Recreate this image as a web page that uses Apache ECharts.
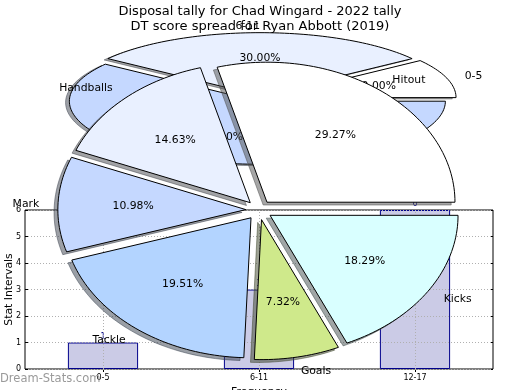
<!DOCTYPE html>
<html>
<head>
<meta charset="utf-8">
<script src="https://cdn.jsdelivr.net/npm/echarts@6/dist/echarts.min.js"></script>
<style>
html, body { margin: 0; padding: 0; background: #ffffff; }
#chart { width: 520px; height: 390px; }
</style>
</head>
<body>
<div id="chart"></div>
<script>
// ---- data ----
const titleMain = 'Disposal tally for Chad Wingard - 2022 tally';
const titleSub = 'DT score spread for Ryan Abbott (2019)';
const spreadCategories = ['0-5', '6-11', '12-17'];
const spreadValues = [1, 3, 6];
const yAxisMax = 6;
const yAxisInterval = 1;
const disposalCategories = ['Hitout', 'Handballs', 'Mark', 'Tackle', 'Goals', 'Kicks'];
const disposalValues = [24, 12, 9, 16, 6, 15];
const xAxisTitle = 'Frequency';
const yAxisTitle = 'Stat Intervals';
const watermarkText = 'Dream-Stats.com';

// ---- styles ----
const FONT = '"DejaVu Sans", sans-serif';
const sliceColors = ['#ffffff', '#e9f0ff', '#c5d8ff', '#b3d4ff', '#cfe98b', '#d9ffff'];
const LABEL_SIZE = 10.8;

function shadowOf(hex) {
  const r = parseInt(hex.slice(1, 3), 16), g = parseInt(hex.slice(3, 5), 16), b = parseInt(hex.slice(5, 7), 16);
  return 'rgba(' + Math.round(r * 0.3) + ',' + Math.round(g * 0.3) + ',' + Math.round(b * 0.3) + ',0.5)';
}

// Elliptical exploded pie slices, angles from the library's polar angle axis
function pieRenderer(values, labels, explode, squash, shadowOffset) {
  const total = values.reduce((a, b) => a + b, 0);
  return function (params, api) {
    const i = params.dataIndex;
    let start = 0;
    for (let k = 0; k < i; k++) start += values[k];
    const end = start + values[i];
    const mid = (start + end) / 2;
    const c = api.coord([0, 0]);
    const P = (r, a) => {
      const p = api.coord([r, a]);
      return [p[0], c[1] + (p[1] - c[1]) * squash];
    };
    const m = P(explode, mid);
    const ox = m[0] - c[0], oy = m[1] - c[1];
    const pts = [[c[0] + ox, c[1] + oy]];
    const n = Math.max(3, Math.ceil(values[i] / total * 240));
    for (let s = 0; s <= n; s++) {
      const p = P(1, start + (end - start) * s / n);
      pts.push([p[0] + ox, p[1] + oy]);
    }
    const shadowPts = pts.map(p => [p[0] + shadowOffset[0], p[1] + shadowOffset[1]]);
    const color = sliceColors[i % sliceColors.length];
    const lp = P(1.1, mid);
    const lx = lp[0] + ox, ly = lp[1] + oy;
    const align = (lx - c[0]) > 0.01 ? 'left' : 'right';
    const pp = P(0.6, mid);
    const pct = (values[i] / total * 100).toFixed(2) + '%';
    return {
      type: 'group',
      children: [
        { type: 'polygon', z2: 0, shape: { points: shadowPts },
          style: { fill: shadowOf(color), stroke: shadowOf(color), lineWidth: 1 } },
        { type: 'polygon', z2: 1, shape: { points: pts },
          style: { fill: color, stroke: '#000000', lineWidth: 1, lineJoin: 'miter' } },
        { type: 'text', z2: 2, x: pp[0] + ox, y: pp[1] + oy,
          style: { text: pct, fill: '#000000', fontSize: LABEL_SIZE, fontFamily: FONT,
                   align: 'center', verticalAlign: 'middle', textAlign: 'center', textVerticalAlign: 'middle' } },
        { type: 'text', z2: 2, x: lx, y: ly,
          style: { text: labels[i], fill: '#000000', fontSize: LABEL_SIZE, fontFamily: FONT,
                   align: align, verticalAlign: 'middle', textAlign: align, textVerticalAlign: 'middle' } }
      ]
    };
  };
}

const chart = echarts.init(document.getElementById('chart'), null, { renderer: 'canvas' });
const disposalTotal = disposalValues.reduce((a, b) => a + b, 0);
const spreadTotal = spreadValues.reduce((a, b) => a + b, 0);

const option = {
  animation: false,
  backgroundColor: '#ffffff',
  textStyle: { fontFamily: FONT },
  title: [
    { text: titleMain, left: 'center', top: 0, z: 10,
      textStyle: { fontSize: 13, fontWeight: 'normal', color: '#000000', fontFamily: FONT } },
    { text: titleSub, left: 'center', top: 15.5, z: 10,
      textStyle: { fontSize: 13, fontWeight: 'normal', color: '#000000', fontFamily: FONT } }
  ],
  grid: {
    left: 25, right: 27, top: 210, bottom: 21,
    show: true, borderColor: '#000000', borderWidth: 1, backgroundColor: 'transparent',
    containLabel: false, outerBoundsMode: 'none'
  },
  polar: [
    { center: [259, 210], radius: 188 },
    { center: [260, 98.5], radius: 188 }
  ],
  angleAxis: [
    { polarIndex: 0, type: 'value', min: 0, max: disposalTotal, startAngle: 0, clockwise: false, show: false },
    { polarIndex: 1, type: 'value', min: 0, max: spreadTotal, startAngle: 0, clockwise: false, show: false }
  ],
  radiusAxis: [
    { polarIndex: 0, type: 'value', min: 0, max: 1, show: false },
    { polarIndex: 1, type: 'value', min: 0, max: 1, show: false }
  ],
  xAxis: [
    {
      type: 'category', data: spreadCategories, position: 'bottom', gridIndex: 0,
      axisLine: { show: false },
      axisTick: { show: true, inside: true, alignWithLabel: true, length: 3, lineStyle: { color: '#000000' } },
      axisLabel: { fontSize: 8, color: '#000000', margin: 5, fontFamily: FONT },
      splitLine: { show: false },
      name: xAxisTitle, nameLocation: 'middle', nameGap: 18, nameMoveOverlap: false,
      nameTextStyle: { fontSize: LABEL_SIZE, color: '#000000', fontFamily: FONT }
    },
    {
      type: 'category', data: spreadCategories, position: 'top', gridIndex: 0,
      axisLine: { show: false },
      axisTick: { show: true, inside: true, alignWithLabel: true, length: 3, lineStyle: { color: '#000000' } },
      axisLabel: { show: false }, splitLine: { show: false }
    }
  ],
  yAxis: [
    {
      type: 'value', min: 0, max: yAxisMax, interval: yAxisInterval, position: 'left', gridIndex: 0, z: 3,
      axisLine: { show: false },
      axisTick: { show: true, inside: true, length: 3, lineStyle: { color: '#000000' } },
      axisLabel: { fontSize: 8, color: '#000000', margin: 4, fontFamily: FONT },
      splitLine: { show: true, lineStyle: { type: [1, 2], color: '#b0b0b0', width: 1 } },
      name: yAxisTitle, nameLocation: 'middle', nameGap: 10, nameRotate: 90, nameMoveOverlap: false,
      nameTextStyle: { fontSize: LABEL_SIZE, color: '#000000', fontFamily: FONT }
    },
    {
      type: 'value', min: 0, max: yAxisMax, interval: yAxisInterval, position: 'right', gridIndex: 0,
      axisLine: { show: false },
      axisTick: { show: true, inside: true, length: 3, lineStyle: { color: '#000000' } },
      axisLabel: { show: false }, splitLine: { show: false }
    }
  ],
  graphic: [
    { type: 'text', left: 0, top: 373, z: 1,
      style: { text: watermarkText, fill: '#9a9a9a', fontSize: 11.5, fontFamily: FONT } }
  ],
  series: [
    {
      type: 'bar', xAxisIndex: 0, yAxisIndex: 0, data: spreadValues, barWidth: '45%', z: 2, silent: true,
      itemStyle: { color: '#cbcbe6', borderColor: '#00008b', borderWidth: 1 },
      label: { show: true, position: 'top', distance: 2, fontSize: 8, color: '#00008b', fontFamily: FONT },
      markLine: {
        silent: true, symbol: ['none', 'none'], animation: false,
        label: { show: false },
        lineStyle: { type: [1, 2], color: '#b0b0b0', width: 1 },
        emphasis: { disabled: true },
        data: spreadCategories.map(c => ({ xAxis: c }))
      }
    },
    {
      type: 'custom', coordinateSystem: 'polar', polarIndex: 1, z: 5, silent: true,
      data: spreadValues.map(v => [1, v]),
      renderItem: pieRenderer(spreadValues, spreadCategories, 0.045, 63 / 188, [-3.8, 1.3])
    },
    {
      type: 'custom', coordinateSystem: 'polar', polarIndex: 0, z: 6, silent: true,
      data: disposalValues.map(v => [1, v]),
      renderItem: pieRenderer(disposalValues, disposalCategories, 0.07, 140 / 188, [-3.8, 2.8])
    }
  ]
};
chart.setOption(option);
</script>
</body>
</html>
